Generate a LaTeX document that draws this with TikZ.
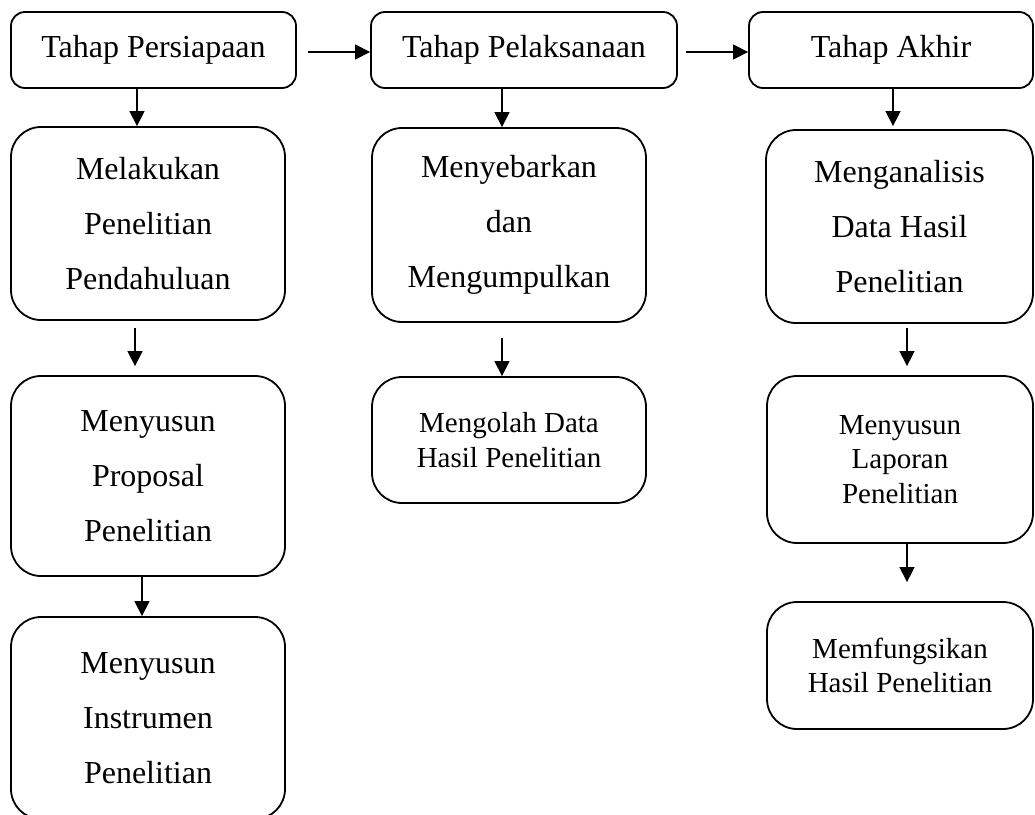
\documentclass[tikz,border=0pt]{standalone}
\usepackage{fontspec}
\setmainfont{Liberation Serif}
\usetikzlibrary{arrows.meta}
\tikzset{
  topbox/.style={draw, line width=1.8pt, rounded corners=14pt, inner sep=0pt, align=center,
    font=\fontsize{32}{38}\selectfont},
  bigbox/.style={draw, line width=1.8pt, rounded corners=30pt, inner sep=0pt, align=center,
    font=\fontsize{32}{55}\selectfont},
  smallbox/.style={draw, line width=1.8pt, rounded corners=30pt, inner sep=0pt, align=center,
    font=\fontsize{29}{34.5}\selectfont},
  arr/.style={line width=1.3pt, -{Triangle[length=15pt,width=15pt]}}
}
\begin{document}
\begin{tikzpicture}[x=1pt,y=-1pt]
\useasboundingbox (0,0) rectangle (1035,814);
% top row
\node[topbox, minimum width=285pt, minimum height=76pt] (t1) at (153.5,50) {Tahap Persiapaan};
\node[topbox, minimum width=306pt, minimum height=76pt] (t2) at (524,50) {Tahap Pelaksanaan};
\node[topbox, minimum width=284pt, minimum height=76pt] (t3) at (891,50) {Tahap Akhir};
% column 1
\node[bigbox, minimum width=274pt, minimum height=193pt] (m1) at (148,223.5) {Melakukan\\Penelitian\\Pendahuluan};
\node[bigbox, minimum width=274pt, minimum height=200pt] (m2) at (148,476) {Menyusun\\Proposal\\Penelitian};
\node[bigbox, minimum width=274pt, minimum height=202pt] (m3) at (148,718) {Menyusun\\Instrumen\\Penelitian};
% column 2
\node[bigbox, minimum width=274pt, minimum height=194pt] (p1) at (509,225) {Menyebarkan\\dan\\Mengumpulkan};
\node[smallbox, minimum width=274pt, minimum height=126pt] (p2) at (509,440) {Mengolah Data\\Hasil Penelitian};
% column 3
\node[bigbox, minimum width=267pt, minimum height=193pt] (a1) at (899.5,226.5) {Menganalisis\\Data Hasil\\Penelitian};
\node[smallbox, minimum width=266pt, minimum height=167pt] (a2) at (900,459.5) {Menyusun\\Laporan\\Penelitian};
\node[smallbox, minimum width=266pt, minimum height=127pt] (a3) at (900,665.5) {Memfungsikan\\Hasil Penelitian};
% horizontal arrows
\draw[arr] ([xshift=11pt,yshift=-2pt]t1.east) -- ([yshift=-2pt]t2.west);
\draw[arr] ([xshift=8pt,yshift=-2pt]t2.east) -- ([yshift=-2pt]t3.west);
% column 1 arrows
\draw[arr] ([xshift=-16.5pt]t1.south) -- ([xshift=-11pt]m1.north);
\draw[arr] ([xshift=-13pt,yshift=-7pt]m1.south) -- ([xshift=-13pt,yshift=9pt]m2.north);
\draw[arr] ([xshift=-6pt]m2.south) -- ([xshift=-6pt]m3.north);
% column 2 arrows
\draw[arr] ([xshift=-22pt]t2.south) -- ([xshift=-7pt]p1.north);
\draw[arr] ([xshift=-7pt,yshift=-15pt]p1.south) -- ([xshift=-7pt]p2.north);
% column 3 arrows
\draw[arr] ([xshift=2pt]t3.south) -- ([xshift=-6.5pt,yshift=3pt]a1.north);
\draw[arr] ([xshift=7.5pt,yshift=-4pt]a1.south) -- ([xshift=7pt,yshift=9pt]a2.north);
\draw[arr] ([xshift=7pt]a2.south) -- ([xshift=7pt,yshift=19pt]a3.north);
\end{tikzpicture}
\end{document}
